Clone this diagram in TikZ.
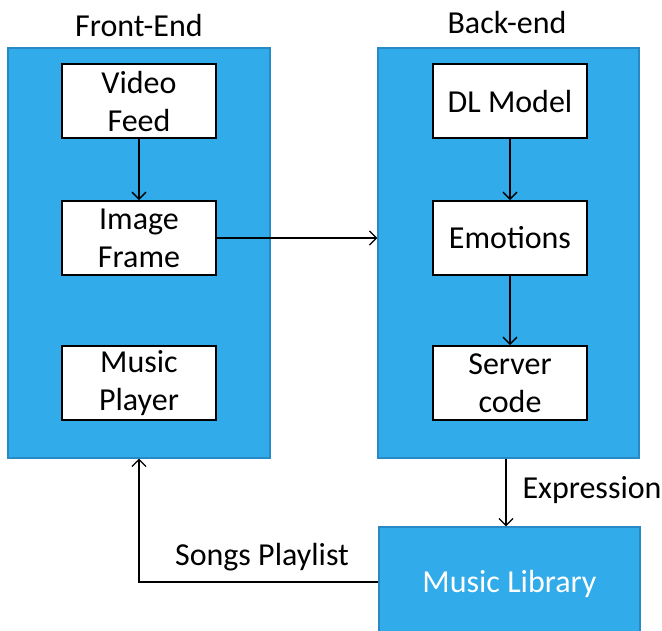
\documentclass[tikz,border=0pt]{standalone}
\usepackage{fontspec}
\setmainfont{Carlito}
\usetikzlibrary{arrows.meta}
\definecolor{panelblue}{RGB}{49,171,233}
\definecolor{paneledge}{RGB}{40,138,196}
\begin{document}
\begin{tikzpicture}[x=1pt,y=-1pt,
  panel/.style={draw=paneledge,line width=1.2pt,fill=panelblue,inner sep=0pt},
  stepbox/.style={draw=black,line width=2pt,fill=white,inner sep=0pt,
    minimum width=154pt,minimum height=74pt,align=center,
    font=\fontsize{32}{38}\selectfont},
  title/.style={font=\fontsize{32}{36}\selectfont},
  lbl/.style={font=\fontsize{32}{36}\selectfont},
  flow/.style={draw=black,line width=1.3pt,-{Straight Barb[length=7pt,width=14pt,line width=1.3pt]}}]
\useasboundingbox (0,0) rectangle (662,630);
% containers
\node[panel,minimum width=262pt,minimum height=410pt] (front) at (139,253) {};
\node[panel,minimum width=261pt,minimum height=410pt] (back) at (508.5,253) {};
\node[panel,minimum width=261pt,minimum height=110pt] (lib) at (509.5,582) {};
\node[text=white,font=\fontsize{32}{36}\selectfont] (libtext) at (509.5,583.5) {Music Library};
% titles
\node[title] (ftitle) at (139,26) {Front-End};
\node[title] (btitle) at (507,23) {Back-end};
% front-end steps
\node[stepbox] (video) at (139,101) {Video\\Feed};
\node[stepbox] (frame) at (139,238) {Image\\Frame};
\node[stepbox] (player) at (139,383) {Music\\Player};
% back-end steps
\node[stepbox] (model) at (510,101) {DL Model};
\node[stepbox] (emo) at (510,238) {Emotions};
\node[stepbox] (server) at (510,383) {Server\\code};
% connectors
\draw[flow] (video) -- (frame);
\draw[flow] (frame.east) -- (back.west |- frame.east);
\draw[flow] (model) -- (emo);
\draw[flow] (emo) -- (server);
\draw[flow] (back.south -| 506,0) coordinate (bs) -- (lib.north -| bs);
\draw[flow] (lib.west) -| (front.south -| video);
% labels
\node[lbl,anchor=west] (expr) at (519,490) {Expression};
\node[lbl] (songs) at (262,557.5) {Songs Playlist};
\end{tikzpicture}
\end{document}
